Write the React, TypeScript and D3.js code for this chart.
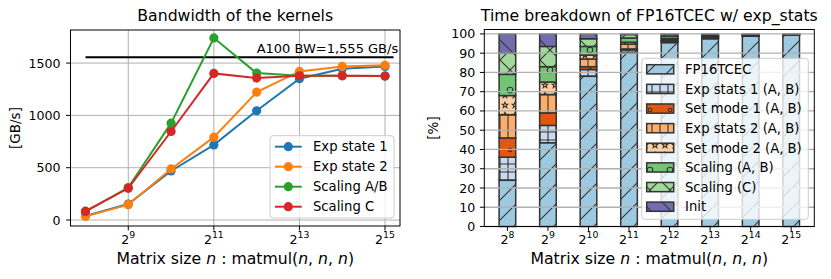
import React, { useEffect, useRef } from "react";
import * as d3 from "d3";

// matrix sizes n (2^8 .. 2^15)
const sizeExponents = [8, 9, 10, 11, 12, 13, 14, 15];
const sizes = sizeExponents.map((e) => 2 ** e);
const bwTickExponents = [9, 11, 13, 15];
const bwTicks = [0, 500, 1000, 1500];
const pctTicks = [0, 10, 20, 30, 40, 50, 60, 70, 80, 90, 100];

// bandwidth [GB/s]
const expState1 = [40, 153, 469, 718, 1044, 1350, 1446, 1468];
const expState2 = [35, 147, 488, 792, 1222, 1420, 1468, 1478];
const scalingAB = [80, 310, 926, 1740, 1404, 1379, 1378, 1376];
const scalingC = [85, 303, 846, 1401, 1357, 1379, 1379, 1376];

const a100Bandwidth = 1555;
const a100LineFrom = 256;
const a100LineTo = 37600;
const a100LabelAt = 4096;
const a100LabelY = 1595;
const a100Label = "A100 BW=1,555 GB/s";

// time breakdown [%]
const fp16tcec = [24, 43.5, 78, 90.2, 95.5, 97.5, 98.8, 99.5];
const expStats1 = [12, 9, 3.5, 1.5, 0.8, 0.4, 0.2, 0.1];
const setMode1 = [10, 6.5, 1.5, 0.5, 0.3, 0.2, 0.1, 0.05];
const expStats2 = [12, 9.5, 4, 2.5, 0.8, 0.4, 0.2, 0.1];
const setMode2 = [10, 6.5, 2, 1, 0.3, 0.2, 0.1, 0.05];
const scalingABShare = [11, 8, 4.5, 2.2, 1.2, 0.6, 0.3, 0.1];
const scalingCShare = [11, 10.5, 4, 1.8, 0.9, 0.5, 0.2, 0.05];
const initShare = [10, 6.5, 2.5, 0.3, 0.2, 0.2, 0.1, 0.05];

const lineSeries = [
  { name: "Exp state 1", values: expState1, color: "#1f77b4" },
  { name: "Exp state 2", values: expState2, color: "#ff7f0e" },
  { name: "Scaling A/B", values: scalingAB, color: "#2ca02c" },
  { name: "Scaling C", values: scalingC, color: "#d62728" },
];

const barSeries = [
  { name: "FP16TCEC", values: fp16tcec, color: "#9ecae1", hatch: "slash" },
  { name: "Exp stats 1 (A, B)", values: expStats1, color: "#c6dbef", hatch: "plus" },
  { name: "Set mode 1 (A, B)", values: setMode1, color: "#e6550d", hatch: "dot" },
  { name: "Exp stats 2 (A, B)", values: expStats2, color: "#fdae6b", hatch: "vbar" },
  { name: "Set mode 2 (A, B)", values: setMode2, color: "#fdd0a2", hatch: "star" },
  { name: "Scaling (A, B)", values: scalingABShare, color: "#74c476", hatch: "ring" },
  { name: "Scaling (C)", values: scalingCShare, color: "#a1d99b", hatch: "cross" },
  { name: "Init", values: initShare, color: "#756bb1", hatch: "back" },
];

const FONT = "DejaVu Sans, sans-serif";
const EDGE = "#333";
const GRID = "#b0b0b0";

// hatch tiles, size + path
const hatchDefs: Record<string, { size: number; d: string; circle?: number }> = {
  slash: { size: 20, d: "M0,20L20,0M-5,5L5,-5M15,25L25,15" },
  back: { size: 20, d: "M0,0L20,20M-5,15L5,25M15,-5L25,5" },
  cross: { size: 20, d: "M0,20L20,0M-5,5L5,-5M15,25L25,15M0,0L20,20M-5,15L5,25M15,-5L25,5" },
  plus: { size: 8, d: "M0,4H8M4,0V8" },
  vbar: { size: 8, d: "M4,0V8" },
  dot: { size: 20, d: "", circle: 1.8 },
  ring: { size: 20, d: "", circle: 2.8 },
  star: { size: 10, d: "M5,2.2L5.8,4.2L7.8,4.3L6.2,5.6L6.8,7.6L5,6.4L3.2,7.6L3.8,5.6L2.2,4.3L4.2,4.2Z" },
};

function powLabel(sel: any, exp: number, size: number) {
  sel.append("tspan").text("2");
  sel.append("tspan").attr("dy", -size * 0.45).attr("font-size", size * 0.74).text(exp);
}

function xLabel(g: any, x: number, y: number) {
  const t = g.append("text").attr("x", x).attr("y", y).attr("text-anchor", "middle")
    .attr("font-size", 15.7).attr("font-family", FONT);
  t.append("tspan").text("Matrix size ");
  t.append("tspan").attr("font-style", "italic").text("n");
  t.append("tspan").text(" : matmul(");
  t.append("tspan").attr("font-style", "italic").text("n");
  t.append("tspan").text(", ");
  t.append("tspan").attr("font-style", "italic").text("n");
  t.append("tspan").text(", ");
  t.append("tspan").attr("font-style", "italic").text("n");
  t.append("tspan").text(")");
}

export default function App() {
  const ref = useRef<SVGSVGElement>(null);

  useEffect(() => {
    const svg = d3.select(ref.current);
    svg.selectAll("*").remove();

    const defs = svg.append("defs");
    barSeries.forEach((s) => {
      const h = hatchDefs[s.hatch];
      const p = defs.append("pattern").attr("id", "h-" + s.hatch)
        .attr("patternUnits", "userSpaceOnUse").attr("width", h.size).attr("height", h.size);
      p.append("rect").attr("width", h.size).attr("height", h.size).attr("fill", s.color);
      if (h.circle) {
        p.append("circle").attr("cx", h.size / 2).attr("cy", h.size / 2).attr("r", h.circle)
          .attr("fill", "none").attr("stroke", EDGE).attr("stroke-width", 1.1);
      } else {
        p.append("path").attr("d", h.d).attr("fill", "none").attr("stroke", EDGE).attr("stroke-width", 1.1);
      }
    });

    // ---------- left: bandwidth ----------
    const L = { left: 70.5, right: 400, top: 30, bottom: 226 };
    const x = d3.scaleLog().base(2).domain([2 ** 7.65, 2 ** 15.35]).range([L.left, L.right]);
    const y = d3.scaleLinear().domain([-57, 1816]).range([L.bottom, L.top]);
    const gl = svg.append("g");

    gl.selectAll(".vg").data(bwTickExponents).join("line")
      .attr("x1", (e) => x(2 ** e)).attr("x2", (e) => x(2 ** e))
      .attr("y1", L.top).attr("y2", L.bottom).attr("stroke", GRID).attr("stroke-width", 1);
    gl.selectAll(".hg").data(bwTicks).join("line")
      .attr("x1", L.left).attr("x2", L.right)
      .attr("y1", (v) => y(v)).attr("y2", (v) => y(v)).attr("stroke", GRID).attr("stroke-width", 1);

    gl.append("line")
      .attr("x1", x(a100LineFrom)).attr("x2", x(a100LineTo))
      .attr("y1", y(a100Bandwidth)).attr("y2", y(a100Bandwidth))
      .attr("stroke", "#000").attr("stroke-width", 2);
    gl.append("text").attr("x", x(a100LabelAt)).attr("y", y(a100LabelY))
      .attr("font-size", 13).attr("font-family", FONT).text(a100Label);

    const line = d3.line<number>().x((_, i) => x(sizes[i])).y((v) => y(v));
    lineSeries.forEach((s) => {
      gl.append("path").datum(s.values).attr("d", line).attr("fill", "none")
        .attr("stroke", s.color).attr("stroke-width", 2);
      gl.selectAll(null).data(s.values).join("circle")
        .attr("cx", (_, i) => x(sizes[i])).attr("cy", (v) => y(v)).attr("r", 4.6).attr("fill", s.color);
    });

    gl.append("rect").attr("x", L.left).attr("y", L.top).attr("width", L.right - L.left)
      .attr("height", L.bottom - L.top).attr("fill", "none").attr("stroke", "#000").attr("stroke-width", 1);

    bwTicks.forEach((v) => {
      gl.append("line").attr("x1", L.left - 4.4).attr("x2", L.left).attr("y1", y(v)).attr("y2", y(v)).attr("stroke", "#000");
      gl.append("text").attr("x", L.left - 10).attr("y", y(v)).attr("dy", "0.36em").attr("text-anchor", "end")
        .attr("font-size", 12.6).attr("font-family", FONT).text(v);
    });
    bwTickExponents.forEach((e) => {
      gl.append("line").attr("x1", x(2 ** e)).attr("x2", x(2 ** e)).attr("y1", L.bottom).attr("y2", L.bottom + 4.4).attr("stroke", "#000");
      const t = gl.append("text").attr("x", x(2 ** e)).attr("y", 244).attr("text-anchor", "middle")
        .attr("font-size", 12.6).attr("font-family", FONT);
      powLabel(t, e, 12.6);
    });

    gl.append("text").attr("x", (L.left + L.right) / 2).attr("y", 21).attr("text-anchor", "middle")
      .attr("font-size", 15.7).attr("font-family", FONT).text("Bandwidth of the kernels");
    xLabel(gl, (L.left + L.right) / 2, 264);
    gl.append("text").attr("transform", `translate(20,${(L.top + L.bottom) / 2}) rotate(-90)`)
      .attr("text-anchor", "middle").attr("font-size", 13.5).attr("font-family", FONT).text("[GB/s]");

    // left legend
    const lg = gl.append("g");
    lg.append("rect").attr("x", 270).attr("y", 135.7).attr("width", 124).attr("height", 82.3).attr("rx", 3)
      .attr("fill", "#fff").attr("fill-opacity", 0.8).attr("stroke", "#ccc");
    lineSeries.forEach((s, i) => {
      const cy = 146.7 + i * 20;
      lg.append("line").attr("x1", 275).attr("x2", 301.7).attr("y1", cy).attr("y2", cy)
        .attr("stroke", s.color).attr("stroke-width", 2);
      lg.append("circle").attr("cx", 288.3).attr("cy", cy).attr("r", 4.6).attr("fill", s.color);
      lg.append("text").attr("x", 313).attr("y", cy).attr("dy", "0.36em")
        .attr("font-size", 13.2).attr("font-family", FONT).text(s.name);
    });

    // ---------- right: time breakdown ----------
    const R = { left: 484.3, right: 814.3, top: 29.5, bottom: 226.5 };
    const xb = d3.scaleLinear().domain([-0.57, 7.57]).range([R.left, R.right]);
    const yb = d3.scaleLinear().domain([0, 102.3]).range([R.bottom, R.top]);
    const bw = 0.41;
    const gr = svg.append("g");

    const stack = d3.stack<number>().keys(barSeries.map((_, k) => String(k)))
      .value((i, key) => barSeries[+key].values[i]);
    const layers = stack(sizeExponents.map((_, i) => i));
    layers.forEach((layer, k) => {
      gr.selectAll(null).data(layer).join("rect")
        .attr("x", (_, i) => xb(i - bw / 2)).attr("width", xb(bw) - xb(0))
        .attr("y", (d) => yb(d[1])).attr("height", (d) => yb(d[0]) - yb(d[1]))
        .attr("fill", `url(#h-${barSeries[k].hatch})`).attr("stroke", EDGE).attr("stroke-width", 1.5);
    });

    gr.selectAll(".hg").data(pctTicks).join("line")
      .attr("x1", R.left).attr("x2", R.right)
      .attr("y1", (v) => yb(v)).attr("y2", (v) => yb(v)).attr("stroke", GRID).attr("stroke-width", 1.3);

    // right legend
    const rg = gr.append("g");
    rg.append("rect").attr("x", 641.7).attr("y", 58.3).attr("width", 166.6).attr("height", 161).attr("rx", 3)
      .attr("fill", "#fff").attr("fill-opacity", 0.8).attr("stroke", "#ccc");
    barSeries.forEach((s, i) => {
      const cy = 69.3 + i * 19.63;
      rg.append("rect").attr("x", 646.7).attr("y", cy - 4.6).attr("width", 27).attr("height", 9.2)
        .attr("fill", `url(#h-${s.hatch})`).attr("stroke", EDGE).attr("stroke-width", 1.5);
      rg.append("text").attr("x", 685).attr("y", cy).attr("dy", "0.36em")
        .attr("font-size", 13.2).attr("font-family", FONT).text(s.name);
    });

    gr.append("rect").attr("x", R.left).attr("y", R.top).attr("width", R.right - R.left)
      .attr("height", R.bottom - R.top).attr("fill", "none").attr("stroke", "#000").attr("stroke-width", 1);

    pctTicks.forEach((v) => {
      gr.append("line").attr("x1", R.left - 4.4).attr("x2", R.left).attr("y1", yb(v)).attr("y2", yb(v)).attr("stroke", "#000");
      gr.append("text").attr("x", R.left - 9).attr("y", yb(v)).attr("dy", "0.36em").attr("text-anchor", "end")
        .attr("font-size", 12.6).attr("font-family", FONT).text(v);
    });
    sizeExponents.forEach((e, i) => {
      gr.append("line").attr("x1", xb(i)).attr("x2", xb(i)).attr("y1", R.bottom).attr("y2", R.bottom + 4.4).attr("stroke", "#000");
      const t = gr.append("text").attr("x", xb(i)).attr("y", 244).attr("text-anchor", "middle")
        .attr("font-size", 12.6).attr("font-family", FONT);
      powLabel(t, e, 12.6);
    });

    gr.append("text").attr("x", (R.left + R.right) / 2).attr("y", 21).attr("text-anchor", "middle")
      .attr("font-size", 15.7).attr("font-family", FONT).text("Time breakdown of FP16TCEC w/ exp_stats");
    xLabel(gr, (R.left + R.right) / 2, 264);
    gr.append("text").attr("transform", `translate(438,${(R.top + R.bottom) / 2}) rotate(-90)`)
      .attr("text-anchor", "middle").attr("font-size", 13.5).attr("font-family", FONT).text("[%]");
  }, []);

  return (
    <svg ref={ref} width={831} height={279}
      style={{ position: "absolute", left: 0, top: 0, background: "#fff" }} />
  );
}
